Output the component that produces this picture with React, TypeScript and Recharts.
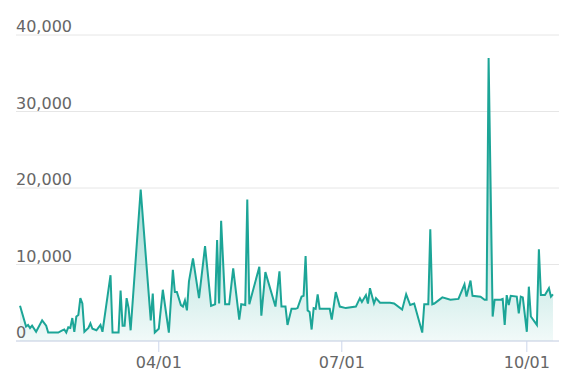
import { AreaChart, Area, XAxis, YAxis, CartesianGrid } from 'recharts';

// daily counts, only the days that show up as corners in the line
const dates = [
  '01/22', '01/25', '01/26', '01/27', '01/28', '01/30', '02/02', '02/04', '02/05', '02/10',
  '02/12', '02/13', '02/14', '02/15', '02/16', '02/17', '02/18', '02/19', '02/20', '02/21',
  '02/22', '02/23', '02/25', '02/26', '02/27', '03/01', '03/03', '03/04', '03/08', '03/09',
  '03/12', '03/13', '03/14', '03/15', '03/16', '03/17', '03/18', '03/23', '03/28', '03/29',
  '03/30', '04/01', '04/03', '04/06', '04/08', '04/09', '04/10', '04/12', '04/13', '04/14',
  '04/15', '04/16', '04/18', '04/21', '04/24', '04/27', '04/29', '04/30', '05/01', '05/02',
  '05/04', '05/06', '05/08', '05/11', '05/12', '05/14', '05/15', '05/16', '05/21', '05/22',
  '05/24', '05/29', '05/31', '06/01', '06/03', '06/04', '06/06', '06/08', '06/09', '06/11',
  '06/12', '06/13', '06/14', '06/15', '06/16', '06/17', '06/18', '06/19', '06/20', '06/25',
  '06/26', '06/28', '06/30', '07/03', '07/08', '07/10', '07/11', '07/13', '07/14', '07/15',
  '07/17', '07/18', '07/20', '07/25', '07/27', '07/31', '08/02', '08/04', '08/06', '08/10',
  '08/11', '08/13', '08/14', '08/15', '08/16', '08/20', '08/24', '08/28', '08/31', '09/01',
  '09/03', '09/04', '09/08', '09/10', '09/11', '09/12', '09/14', '09/15', '09/18', '09/19',
  '09/20', '09/21', '09/22', '09/23', '09/26', '09/27', '09/28', '09/29', '10/01', '10/02',
  '10/03', '10/06', '10/07', '10/08', '10/10', '10/12', '10/13', '10/14',
];

const counts = [
  4600, 1900, 2100, 1700, 2000, 1200, 2700, 2000, 1100, 1100,
  1400, 1500, 1100, 1800, 1700, 3000, 1200, 3200, 3400, 5600,
  4900, 1200, 1700, 2300, 1600, 1400, 2100, 1200, 8600, 1100,
  1100, 6600, 2000, 2000, 5600, 4300, 1400, 19800, 2700, 6200,
  1100, 1600, 6700, 1100, 9300, 6400, 6400, 4700, 4500, 5300,
  4000, 7800, 10800, 5600, 12400, 4600, 4800, 13200, 4900, 15700,
  4800, 4800, 9500, 2800, 4800, 4700, 18500, 4800, 9700, 3300,
  9000, 4500, 9100, 4500, 4500, 2100, 4200, 4200, 4300, 5800,
  5900, 11100, 4000, 3800, 1500, 4300, 4200, 6100, 4200, 4200,
  2800, 6400, 4500, 4300, 4500, 5600, 5100, 6000, 4900, 6900,
  4900, 5600, 5000, 5000, 4900, 4100, 6100, 4700, 4900, 1100,
  4800, 4800, 14600, 4800, 4900, 5700, 5400, 5500, 7400, 5800,
  7900, 5900, 5800, 5400, 5400, 37000, 3200, 5400, 5400, 5500,
  2100, 6000, 4700, 5900, 5800, 3600, 5800, 5700, 1200, 7100,
  3200, 2100, 12000, 6000, 6000, 6900, 5800, 6100,
];

const yTicks = [0, 10000, 20000, 30000, 40000];
const xTickLabels = ['04/01', '07/01', '10/01'];

const MONTH_START = [0, 31, 59, 90, 120, 151, 181, 212, 243, 273, 304, 334];

const toDay = (s: string) => {
  const [m, d] = s.split('/').map(Number);
  return MONTH_START[m - 1] + d - 1;
};

const toLabel = (day: number) => {
  let m = 11;
  while (MONTH_START[m] > day) m--;
  const d = day - MONTH_START[m] + 1;
  return `${String(m + 1).padStart(2, '0')}/${String(d).padStart(2, '0')}`;
};

const data = dates.map((s, i) => ({ day: toDay(s), value: counts[i] }));

const LINE = '#1ca597';
const AXIS = '#ccd6eb';
const FONT = '"DejaVu Sans", sans-serif';

function YTick(props: any) {
  const { y, payload } = props;
  return (
    <text x={16} y={y - 3} fill="#666" fontSize={16} fontFamily={FONT} textAnchor="start">
      {Number(payload.value).toLocaleString('en-US')}
    </text>
  );
}

export default function App() {
  return (
    <div style={{ position: 'absolute', left: 0, top: 0, background: '#fff' }}>
      <AreaChart
        width={582}
        height={389}
        data={data}
        margin={{ top: 35, right: 23, bottom: 0, left: 0 }}
        style={{ fontFamily: FONT }}
      >
        <defs>
          <linearGradient id="fillGrad" x1="0" y1="0" x2="0" y2="1">
            <stop offset="0%" stopColor={LINE} stopOpacity={1} />
            <stop offset="60%" stopColor={LINE} stopOpacity={0.55} />
            <stop offset="100%" stopColor={LINE} stopOpacity={0.1} />
          </linearGradient>
        </defs>
        <CartesianGrid vertical={false} stroke="#e6e6e6" />
        <XAxis
          dataKey="day"
          type="number"
          domain={[19, 289]}
          ticks={xTickLabels.map(toDay)}
          tickFormatter={toLabel}
          height={48}
          tickSize={11}
          tickMargin={5}
          axisLine={{ stroke: AXIS }}
          tickLine={{ stroke: AXIS }}
          tick={{ fill: '#666', fontSize: 16, fontFamily: FONT }}
          allowDataOverflow
        />
        <YAxis
          domain={[0, 40000]}
          ticks={yTicks}
          width={16}
          interval={0}
          axisLine={false}
          tickLine={false}
          tick={<YTick />}
          allowDataOverflow
        />
        <Area
          type="linear"
          dataKey="value"
          stroke={LINE}
          strokeWidth={2}
          fill="url(#fillGrad)"
          dot={false}
          activeDot={false}
          isAnimationActive={false}
        />
      </AreaChart>
    </div>
  );
}
